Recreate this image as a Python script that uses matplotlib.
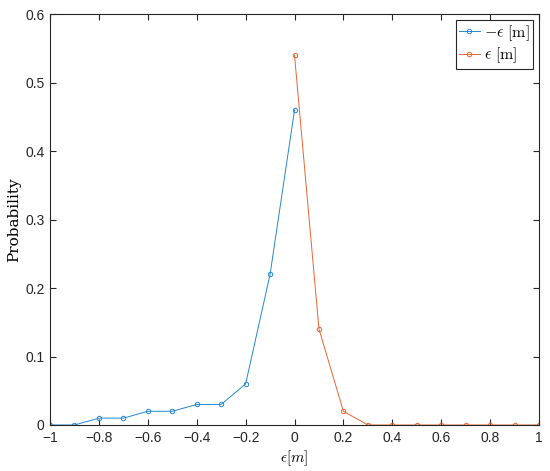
import matplotlib
matplotlib.use("Agg")
import matplotlib.pyplot as plt
import numpy as np

x_neg = [-1.0, -0.9, -0.8, -0.7, -0.6, -0.5, -0.4, -0.3, -0.2, -0.1, 0.0]
p_neg = [0.0, 0.0, 0.01, 0.01, 0.02, 0.02, 0.03, 0.03, 0.06, 0.22, 0.46]
x_pos = [0.0, 0.1, 0.2, 0.3, 0.4, 0.5, 0.6, 0.7, 0.8, 0.9, 1.0]
p_pos = [0.54, 0.14, 0.02, 0.0, 0.0, 0.0, 0.0, 0.0, 0.0, 0.0, 0.0]
xticks = [-1, -0.8, -0.6, -0.4, -0.2, 0, 0.2, 0.4, 0.6, 0.8, 1]
xticklabels = ["\u22121", "\u22120.8", "\u22120.6", "\u22120.4", "\u22120.2", "0", "0.2", "0.4", "0.6", "0.8", "1"]
yticks = [0, 0.1, 0.2, 0.3, 0.4, 0.5, 0.6]
yticklabels = ["0", "0.1", "0.2", "0.3", "0.4", "0.5", "0.6"]

plt.rcParams['mathtext.fontset'] = 'cm'
plt.rcParams['font.family'] = 'Liberation Sans'

fig = plt.figure(figsize=(5.5, 4.71), dpi=100)
ax = fig.add_axes([0.091, 0.0977, 0.889, 0.8723])

blue = (0.15, 0.53, 0.82)
orange = (0.90, 0.40, 0.20)
ax.plot(x_neg, p_neg, '-o', color=blue, lw=0.7, ms=3.2, mfc='none', mew=0.7, label=r'$-\epsilon\ [\mathrm{m}]$')
ax.plot(x_pos, p_pos, '-o', color=orange, lw=0.7, ms=3.2, mfc='none', mew=0.7, label=r'$\epsilon\ [\mathrm{m}]$')

ax.set_xlim(-1, 1)
ax.set_ylim(0, 0.6)
ax.set_xticks(xticks)
ax.set_xticklabels(xticklabels)
ax.set_yticks(yticks)
ax.set_yticklabels(yticklabels)
ax.tick_params(direction='in', top=True, right=True, labelsize=10, length=4, width=0.8,
               colors='#262626', pad=4)
for s in ax.spines.values():
    s.set_linewidth(0.8)
    s.set_color('#262626')

ax.set_xlabel(r'$\epsilon[m]$', fontsize=11, labelpad=3)
ax.set_ylabel('Probability', fontsize=11, family='DejaVu Serif', labelpad=3)

leg = ax.legend(loc='upper right', fontsize=11.5, fancybox=False, edgecolor='#262626',
                framealpha=1, handlelength=1.3, borderpad=0.2, labelspacing=0.2,
                handletextpad=0.3, borderaxespad=0.35)
leg.get_frame().set_linewidth(0.8)

fig.savefig('out.png', dpi=100)
